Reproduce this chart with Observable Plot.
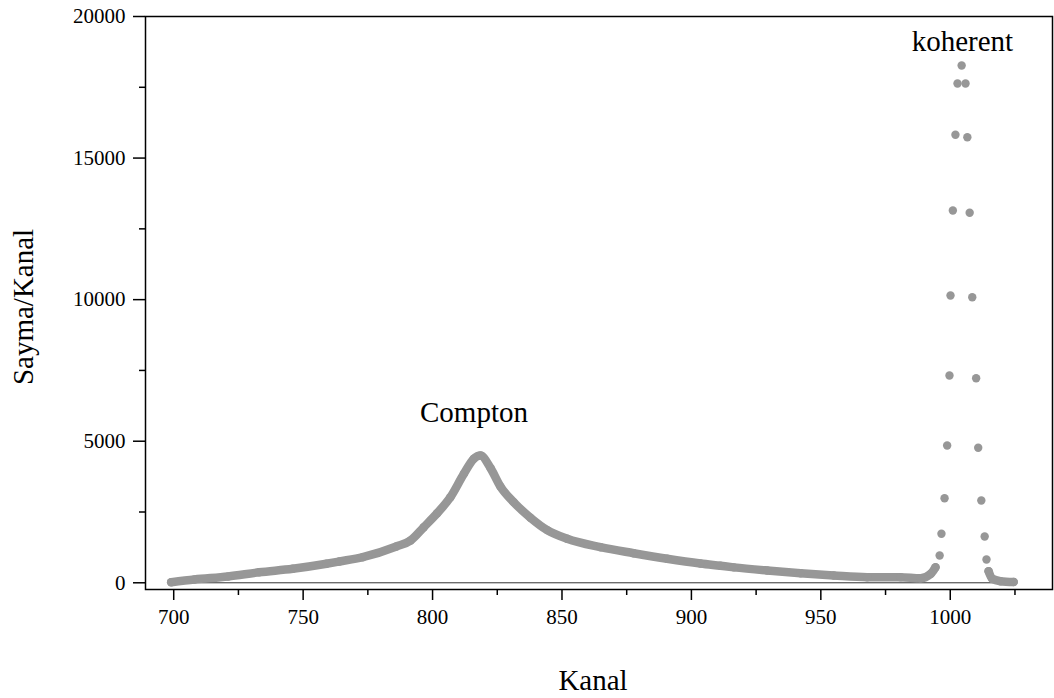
<!DOCTYPE html>
<html>
<head>
<meta charset="utf-8">
<script src="https://cdn.jsdelivr.net/npm/d3@7"></script>
<script src="https://cdn.jsdelivr.net/npm/@observablehq/plot@0.6"></script>
<style>
  html, body { margin: 0; padding: 0; background: #fff; }
  svg { display: block; }
</style>
</head>
<body>
<div id="chart"></div>
<script>
// Spectrum: channel (Kanal) and counts (Sayma/Kanal)
const channel = [699, 708, 721, 733, 746, 759, 764, 773, 786, 791.5,
  796.6, 801.8, 806.9, 812.1, 815.9, 818.5, 822.4, 826.2, 831.3, 837.8,
  844.3, 852, 864.9, 877.7, 890.6, 903.5, 911.2, 916.4, 929.3,
  942.2, 955, 967.9, 980.8, 988.5, 992.5,
  994.3, 995.9, 996.6, 997.8, 998.8, 999.7, 1000.1, 1001, 1002, 1002.8,
  1004.4, 1005.9, 1006.6, 1007.5, 1008.5, 1010, 1010.8, 1012, 1013.3, 1014,
  1014.8, 1016.2, 1019.4, 1024.5];
const counts = [20, 117, 222, 370, 494, 671, 752, 904, 1282, 1494,
  1964, 2458, 3023, 3850, 4380, 4496, 4050, 3400, 2850, 2300,
  1860, 1554, 1257, 1045, 848, 680, 600, 545, 434,
  339, 258, 198, 198, 160, 318,
  547, 964, 1731, 2988, 4849, 7322, 10148, 13150, 15823, 17636,
  18272, 17636, 15738, 13068, 10087, 7226, 4768, 2907, 1635, 823,
  410, 141, 57, 28];

const xMajorTicks = [700, 750, 800, 850, 900, 950, 1000];
const xMinorTicks = [725, 775, 825, 875, 925, 975, 1025];
const yMajorTicks = [0, 5000, 10000, 15000, 20000];
const yMinorTicks = [2500, 7500, 12500, 17500];

const annotationLabels = ["Compton", "koherent"];
const annotationChannel = [816, 1004.7];
const annotationCounts = [5672, 18765];

const xTitle = "Kanal";
const yTitle = "Sayma/Kanal";

const spectrum = channel.map((c, i) => ({ch: c, v: counts[i]}));
// the densely sampled parts (one point per channel) merge into a continuous band
const band = spectrum.filter(d => d.ch < 995 || d.ch > 1014.5);
const annotations = annotationLabels.map((t, i) => ({t, ch: annotationChannel[i], v: annotationCounts[i]}));

const grey = "#979797";

const plot = Plot.plot({
  width: 1054,
  height: 698,
  marginLeft: 145,
  marginRight: 2,
  marginTop: 16,
  marginBottom: 109,
  style: {fontFamily: "'Liberation Serif', 'DejaVu Serif', serif", fontSize: "21px", background: "#fff", color: "#000"},
  x: {domain: [689.1, 1039.5], label: null},
  y: {domain: [-237, 20000], label: null},
  marks: [
    Plot.ruleY([0], {x1: d3.min(channel), x2: d3.max(channel), stroke: "#333", strokeWidth: 1}),
    Plot.line(band, {x: "ch", y: "v", z: d => d.ch < 1000 ? "compton" : "tail",
      stroke: grey, strokeWidth: 8.5, strokeLinecap: "round", strokeLinejoin: "round", curve: "monotone-x"}),
    Plot.dot(spectrum, {x: "ch", y: "v", r: 4.2, fill: grey, stroke: "none"}),
    Plot.axisX(xMajorTicks, {tickSize: 11, tickPadding: 9, tickFormat: d => String(d), strokeWidth: 1.5, label: null, fontSize: 21}),
    Plot.axisX(xMinorTicks, {tickSize: 6, tickFormat: () => "", strokeWidth: 1.5, label: null}),
    Plot.axisY(yMajorTicks, {tickSize: 12, tickPadding: 8, tickFormat: d => String(d), strokeWidth: 1.5, label: null, fontSize: 21}),
    Plot.axisY(yMinorTicks, {tickSize: 6, tickFormat: () => "", strokeWidth: 1.5, label: null}),
    Plot.text(annotations, {x: "ch", y: "v", text: "t", textAnchor: "middle", lineAnchor: "bottom", fontSize: 29, fill: "#000"}),
    Plot.text([xTitle], {frameAnchor: "bottom", textAnchor: "middle", dx: -6, dy: 100, lineAnchor: "bottom", fontSize: 29, fill: "#000"}),
    Plot.text([yTitle], {frameAnchor: "left", textAnchor: "middle", rotate: -90, dx: -113, dy: 4, lineAnchor: "bottom", fontSize: 29, fill: "#000"}),
    Plot.frame({stroke: "#000", strokeWidth: 1.5})
  ]
});
document.getElementById("chart").append(plot);
</script>
</body>
</html>
